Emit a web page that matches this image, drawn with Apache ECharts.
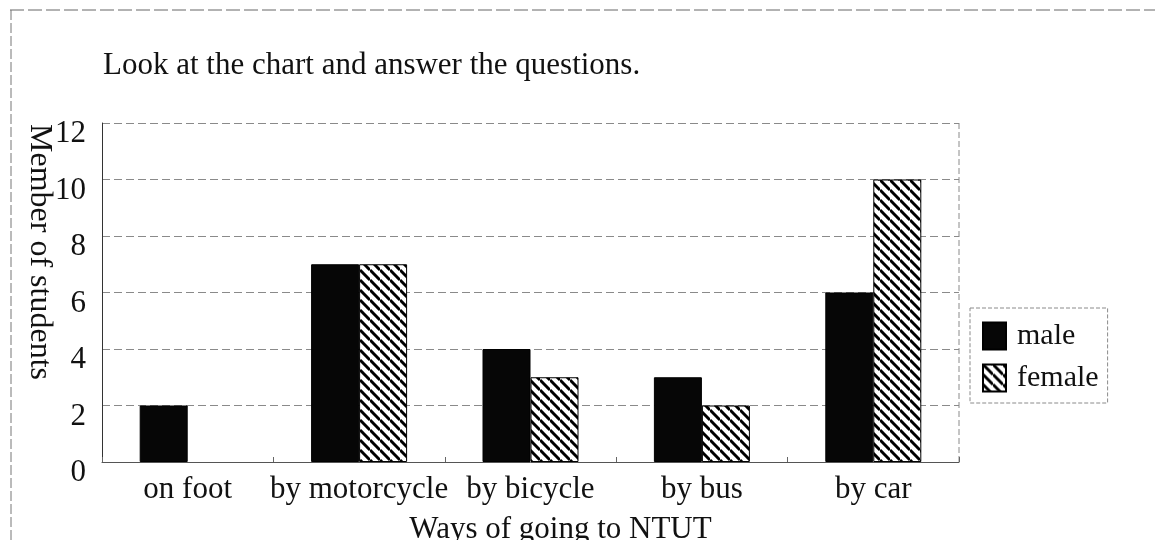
<!DOCTYPE html>
<html>
<head>
<meta charset="utf-8">
<script src="https://cdn.jsdelivr.net/npm/echarts@6/dist/echarts.min.js"></script>
<style>
  html, body { margin: 0; padding: 0; background: #fff; }
  #chart { width: 1155px; height: 540px; }
</style>
</head>
<body>
<div id="chart"></div>
<script>
// data
const categories = ["on foot", "by motorcycle", "by bicycle", "by bus", "by car"];
const maleValues = [2, 7, 4, 3, 6];
const femaleValues = [null, 7, 3, 2, 10]; // no female bar for "on foot"
const yTicks = [0, 2, 4, 6, 8, 10, 12];

const FONT = "'Liberation Serif', 'DejaVu Serif', serif";
const INK = "#111";
const FAINT = "#8a8a8a";

// diagonal hatch for the female bars
const makeHatch = () => {
  const s = 10;
  const c = document.createElement("canvas");
  c.width = s;
  c.height = s;
  const ctx = c.getContext("2d");
  ctx.fillStyle = "#fff";
  ctx.fillRect(0, 0, s, s);
  ctx.strokeStyle = "#000";
  ctx.lineWidth = 3;
  for (let k = -1; k <= 1; k++) {
    ctx.beginPath();
    ctx.moveTo(0, k * s);
    ctx.lineTo(s, s + k * s);
    ctx.stroke();
  }
  return c;
};

const chart = echarts.init(document.getElementById("chart"));

const option = {
  backgroundColor: "#fff",
  animation: false,
  title: {
    text: "Look at the chart and answer the questions.",
    left: 98,
    top: 45,
    textStyle: { fontFamily: FONT, fontSize: 31, fontWeight: "normal", color: INK }
  },
  legend: {
    orient: "vertical",
    left: 970,
    top: 308,
    padding: [13, 9, 10, 12],
    icon: "rect",
    itemWidth: 23,
    itemHeight: 27,
    itemGap: 12,
    borderColor: FAINT,
    borderWidth: 1,
    borderType: "dashed",
    textStyle: { fontFamily: FONT, fontSize: 30, color: INK, padding: [0, 0, 0, 6] },
    data: ["male", "female"]
  },
  grid: { left: 102, right: 196, top: 123, bottom: 78, outerBoundsMode: "none" },
  xAxis: {
    type: "category",
    data: categories,
    name: "Ways of going to NTUT",
    nameLocation: "middle",
    nameGap: 52,
    // name sits a little right of the plot centre in the original
    nameTextStyle: { fontFamily: FONT, fontSize: 31, color: INK, padding: [0, 0, 0, 60] },
    axisLine: { show: true, lineStyle: { color: "#555", width: 1 } },
    axisTick: { show: true, inside: true, length: 5, lineStyle: { color: "#666" } },
    axisLabel: { fontFamily: FONT, fontSize: 31, color: INK, margin: 12, interval: 0 },
    splitLine: { show: false }
  },
  yAxis: {
    type: "value",
    min: yTicks[0],
    max: yTicks[yTicks.length - 1],
    interval: 2,
    axisLine: { show: true, lineStyle: { color: "#333", width: 1 } },
    axisTick: { show: false },
    axisLabel: {
      fontFamily: FONT,
      fontSize: 31,
      color: INK,
      margin: 16,
      verticalAlign: "top",
      lineHeight: 22
    },
    splitLine: { show: true, lineStyle: { color: FAINT, type: [8, 4], width: 1 } }
  },
  series: [
    {
      name: "male",
      type: "bar",
      data: maleValues,
      barWidth: 48,
      barGap: "0%",
      itemStyle: { color: "#060606", borderColor: "#000", borderWidth: 1 }
    },
    {
      name: "female",
      type: "bar",
      data: femaleValues,
      barWidth: 48,
      itemStyle: {
        color: { image: makeHatch(), repeat: "repeat" },
        borderColor: "#000",
        borderWidth: 1
      }
    }
  ],
  graphic: [
    // y axis name, reads top to bottom
    {
      type: "text",
      x: 39,
      y: 252,
      rotation: -Math.PI / 2,
      style: {
        text: "Member of students",
        font: "32px " + FONT,
        fill: INK,
        align: "center",
        verticalAlign: "middle"
      }
    },
    // right edge of the plot frame
    {
      type: "line",
      shape: { x1: 959, y1: 123, x2: 959, y2: 462 },
      style: { stroke: FAINT, lineWidth: 1, lineDash: [6, 3] }
    },
    // page border (scanned worksheet)
    {
      type: "line",
      shape: { x1: 10, y1: 10, x2: 1155, y2: 10 },
      style: { stroke: "#666", lineWidth: 1, lineDash: [14, 4] }
    },
    {
      type: "line",
      shape: { x1: 11, y1: 10, x2: 11, y2: 540 },
      style: { stroke: "#777", lineWidth: 1, lineDash: [10, 3] }
    }
  ]
};

chart.setOption(option);
</script>
</body>
</html>
